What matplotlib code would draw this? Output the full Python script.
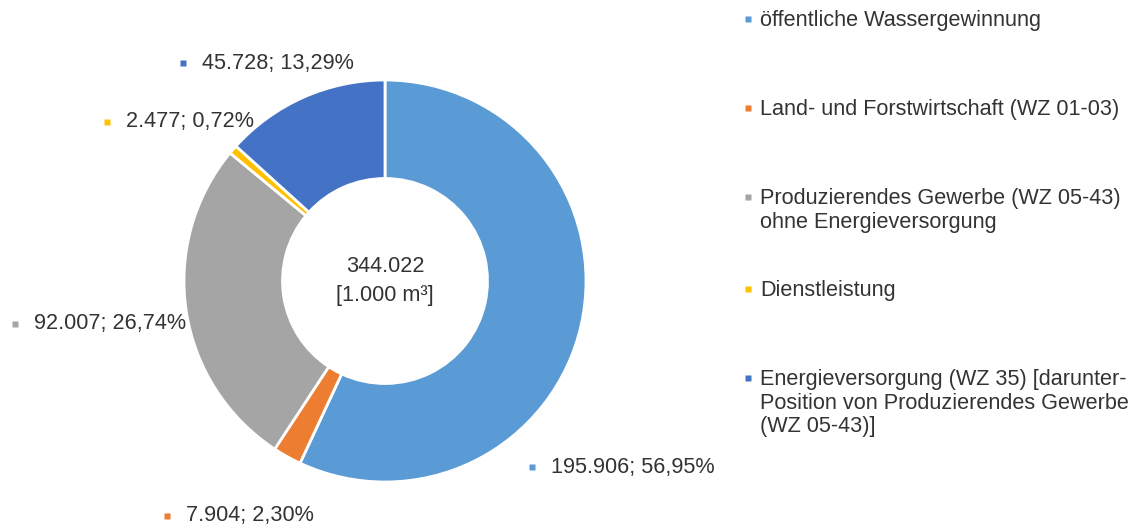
import matplotlib
matplotlib.use("Agg")
import matplotlib.pyplot as plt

plt.rcParams["font.family"] = ["Liberation Sans", "DejaVu Sans"]

# data (1.000 m³)
categories = ["öffentliche Wassergewinnung",
              "Land- und Forstwirtschaft (WZ 01-03)",
              "Produzierendes Gewerbe (WZ 05-43)\nohne Energieversorgung",
              "Dienstleistung",
              "Energieversorgung (WZ 35) [darunter-\nPosition von Produzierendes Gewerbe\n(WZ 05-43)]"]
values = [195906, 7904, 92007, 2477, 45728]
colors = ["#5B9BD5", "#ED7D31", "#A5A5A5", "#FFC000", "#4472C4"]

TXT = "#333333"
FS = 15.6
W, H = 1143, 529
total = sum(values)

def de_num(v):
    return f"{v:,}".replace(",", ".")

def de_pct(v):
    return f"{100 * v / total:.2f}".replace(".", ",") + "%"

fig = plt.figure(figsize=(W / 100, H / 100), dpi=100)

# donut: center (385, 281) px, outer radius 201 px
cx, cy, r = 385, 281, 201
ax = fig.add_axes([(cx - r) / W, (H - cy - r) / H, 2 * r / W, 2 * r / H])
ax.pie(values, colors=colors, startangle=90, counterclock=False, radius=1,
       wedgeprops=dict(width=0.49, edgecolor="white", linewidth=2))
ax.set_xlim(-1, 1); ax.set_ylim(-1, 1)
ax.set_aspect("equal"); ax.axis("off")
ax.text(0, 0.07, de_num(total), ha="center", va="center", fontsize=FS, color=TXT)
ax.text(0, -0.07, "[1.000 m\u00b3]", ha="center", va="center", fontsize=FS, color=TXT)

# overlay in pixel coordinates for labels and legend
ov = fig.add_axes([0, 0, 1, 1], zorder=5)
ov.set_xlim(0, W); ov.set_ylim(H, 0); ov.axis("off")

# data labels: (marker x, y) per slice
label_pos = [(532, 467), (167, 516), (15, 324), (107, 122), (183, 63)]
for (x, y), v, c in zip(label_pos, values, colors):
    ov.plot(x, y, "s", color=c, ms=5, mec="none")
    ov.text(x + 19, y, f"{de_num(v)}; {de_pct(v)}", va="center", ha="left",
            fontsize=FS, color=TXT)

# legend
leg_y = [19, 108, 197, 289, 378]
for y, lab, c in zip(leg_y, categories, colors):
    ov.plot(748, y, "s", color=c, ms=5, mec="none")
    ov.text(760, y - 9, lab, va="top", ha="left", fontsize=FS, color=TXT,
            linespacing=1.17)

fig.savefig("out.png", dpi=100, facecolor="white")
